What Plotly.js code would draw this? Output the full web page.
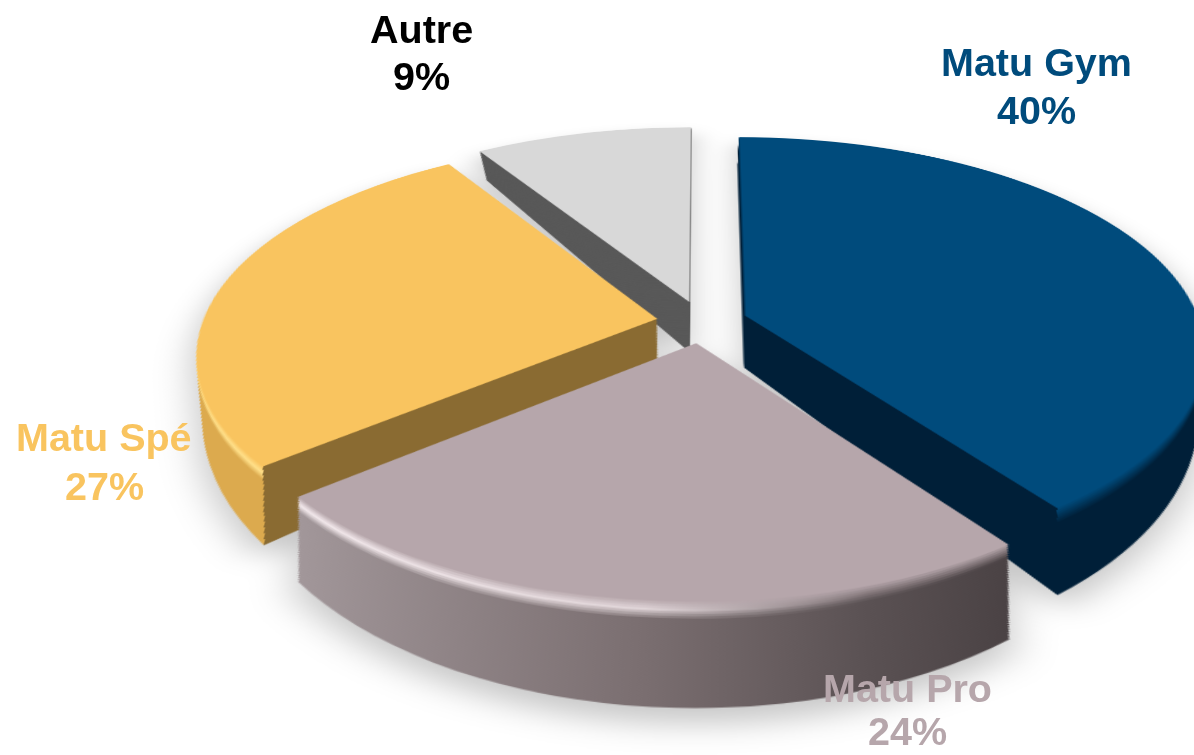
<!DOCTYPE html>
<html><head><meta charset="utf-8">
<script src="https://cdn.plot.ly/plotly-3.0.1.min.js"></script>
<style>html,body{margin:0;padding:0;background:#fff;overflow:hidden;width:1194px;height:755px}
#chart{width:1194px;height:755px;position:relative}</style></head>
<body><div id="chart"></div>
<script>
const categories = ['Matu Gym','Matu Pro','Matu Spé','Autre'];
const shares = [40,24,27,9];
const topColors = ['#004b7c','#b6a6ab','#f9c45f','#d8d8d8'];
const wallColors = ['#001f38','#8a7d80','#8a6b32','#595959'];
const labelColors = ['#004b7c','#b6a6ab','#f9c45f','#000000'];
const labelX = [1036,907,104,421];
const nameY = [62,688,437,29];
const shareY = [110,731,486,76];
const pulls = [0.1,0.1,0.1,0.1];
const W=1194,H=755,N=42,M=7,depth=0.1;
const traces=[];
for(let i=N;i>=0;i--){
  const off=depth*i/N;
  traces.push({type:'pie',values:shares,labels:categories,sort:false,direction:'clockwise',rotation:0,
    pull:pulls,textinfo:'none',hoverinfo:'skip',showlegend:false,
    domain:{x:[0,1],y:[depth-off,1-off]},
    marker:{colors:i===0?topColors:wallColors,line:{width:0}}});
}
const annotations=[];
categories.forEach((c,i)=>{
  [[c,nameY[i]],[shares[i]+'%',shareY[i]]].forEach(([t,y])=>annotations.push({text:'<b>'+t+'</b>',x:labelX[i]/W,y:1-y/H,
    xref:'paper',yref:'paper',xanchor:'center',yanchor:'middle',showarrow:false,
    font:{family:'Liberation Sans, Arial, sans-serif',size:39.5,color:labelColors[i]}}));
});
function hex(c){return [1,3,5].map(k=>parseInt(c.substr(k,2),16));}
function mix(a,b,t){t=Math.min(1,Math.max(0,t));const A=hex(a),B=hex(b);return 'rgb('+A.map((v,k)=>Math.round(v+(B[k]-v)*t)).join(',')+')';}
function grad(id,stops){return '<linearGradient id="'+id+'" x1="0" x2="1" y1="0" y2="0">'+stops.map(s=>'<stop offset="'+s[0]+'" stop-color="'+s[1]+'"/>').join('')+'</linearGradient>';}
function via(a,h,b,t){return t<0.5?mix(a,h,2*t):mix(h,b,2*t-1);}
Plotly.newPlot('chart',traces,{width:W,height:H,margin:{l:0,r:0,t:0,b:0},paper_bgcolor:'rgba(0,0,0,0)',plot_bgcolor:'rgba(0,0,0,0)',annotations,showlegend:false},{displayModeBar:false,staticPlot:true}).then(()=>{
  const svg=document.querySelectorAll('#chart .main-svg')[0];
  const ns='http://www.w3.org/2000/svg';
  const defs=document.createElementNS(ns,'defs');
  let html='';
  const gs=[0.588,0.23];
  for(let j=1;j<=M+1;j++){
    const t=j/(M+1);
    html+=grad('g'+j,[[0,'#001f38'],[gs[0],'#001f38'],[gs[0],mix('#004b7c','#001f38',t)],[1,mix('#004b7c','#001f38',t)]]);
    html+=grad('p'+j,[[0,via('#b6a6ab','#f3e9ec','#a2979a',t)],[0.5,via('#b6a6ab','#e0d5d8','#7a6e70',t)],[0.8,mix('#b6a6ab','#5a5153',t*1.2)],[1,mix('#b6a6ab','#4a4244',t*1.3)]]);
    html+=grad('s'+j,[[0,via('#f9c45f','#ffe08a','#dcaa4e',t)],[gs[1],via('#f9c45f','#ffe08a','#dcaa4e',t)],[gs[1],'#8a6b32'],[1,'#8a6b32']]);
  }
  defs.innerHTML=html;
  svg.insertBefore(defs,svg.firstChild);
  const cy=(1-depth)*H/2;
  const groups=svg.querySelectorAll('.pielayer .trace');
  groups.forEach((g,idx)=>{
    const i=N-idx; if(i===0) return;
    const s=g.querySelectorAll('.slice path.surface');
    const j=Math.min(i,M+1);
    s[0].style.fill='url(#g'+j+')'; s[1].style.fill='url(#p'+j+')'; s[2].style.fill='url(#s'+j+')';
    const f=i/N, c=cy+depth*f*H, sx=1-0.055*f, sy=1+0.07*f;
    g.setAttribute('transform','translate('+W/2+','+c+') scale('+sx+','+sy+') translate('+(-W/2)+','+(-c)+')');
  });
  svg.style.overflow='visible';
  svg.style.transformOrigin=(W/2)+'px '+cy+'px';
  svg.style.filter='drop-shadow(0 14px 12px rgba(0,0,0,0.22))';
  svg.style.transform='translate(105px,'+(322-cy)+'px) perspective(2490px) rotateX(62.6deg) scale(1.472)';
});
</script></body></html>
